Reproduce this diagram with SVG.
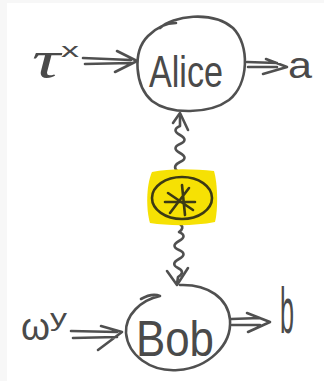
<svg xmlns="http://www.w3.org/2000/svg" width="324" height="381" viewBox="0 0 324 381">
<style>
.ink{fill:none;stroke:#505050;stroke-width:2.6;stroke-linecap:round;stroke-linejoin:round}
.dark{fill:none;stroke:#3c3a14;stroke-width:2.6;stroke-linecap:round;stroke-linejoin:round}
.t{fill:#4a4a4a;font-family:"Liberation Sans",Arial,sans-serif}
</style>
<rect width="324" height="381" fill="#f7f7f7"/>
<rect x="7" y="3" width="317" height="378" fill="#ffffff"/>
<g id="connectors">
  <g id="tau-to-alice">
    <path class="ink" d="M83 58 L131 60 M85 64 L131 63 M117 51 L137 61 L115 72"/>
  </g>
  <g id="alice-to-a">
    <path class="ink" d="M247 62 L277 63 M248 67 L277 67 M266 59 L287 67 L263 74"/>
  </g>
  <g id="omega-to-bob">
    <path class="ink" d="M71 331 L117 332 M73 338 L117 337 M101 326 L122 332 L98 350"/>
  </g>
  <g id="bob-to-b">
    <path class="ink" d="M231 319 L260 318 M232 325 L260 325 M247 313 L270 322 L248 332"/>
  </g>
  <g id="source-to-alice">
    <path class="ink" d="M180 115 L180 126 q-9 4 0 9 t0 9 t0 9 t0 9 q-8 4 -3 9 q3 2 -1 5"/>
    <path class="ink" d="M173 123 L180 113 L188 130"/>
  </g>
  <g id="source-to-bob">
    <path class="ink" d="M180 224 q5 4 -1 8 q9 4 0 9 t0 9 t0 9 t-1 9 t0 9 L177 284"/>
    <path class="ink" d="M167 271 L177 285 L188 268"/>
  </g>
</g>
<g id="node-alice">
  <path class="ink" d="M160 28 C172 16 212 10 233 28 C250 45 249 84 229 100 C210 114 170 115 152 101 C135 86 132 52 148 36 C156 28 166 23 176 23"/>
  <text class="t" x="149" y="87" font-size="44" textLength="74" lengthAdjust="spacingAndGlyphs">Alice</text>
</g>
<g id="node-bob">
  <path class="ink" d="M141 299 C148 295 155 294 160 296 C141 300 125 315 126 333 C128 355 150 372 178 370 C208 368 232 345 230 320 C228 298 208 284 180 285"/>
  <text class="t" x="136" y="356" font-size="50" textLength="78" lengthAdjust="spacingAndGlyphs">Bob</text>
</g>
<g id="node-source">
  <path d="M152 172 C170 168 195 169 214 171 C218 185 218 210 215 222 C195 226 170 226 150 223 C146 210 146 185 152 172 Z" fill="#f6e104"/>
  <ellipse class="dark" cx="182" cy="198" rx="30" ry="21"/>
  <path class="dark" d="M165 202 L195 202 M182 185 L185 215 M170 213 L189 188 M168 193 L193 210"/>
</g>
<g id="label-tau">
  <text x="32" y="77" font-size="52" font-style="italic" fill="#4a4a4a" font-family="'Liberation Serif','Times New Roman',serif" textLength="28" lengthAdjust="spacingAndGlyphs">τ</text>
  <text class="t" x="61" y="57" font-size="20" textLength="18" lengthAdjust="spacingAndGlyphs">x</text>
</g>
<g id="label-a">
  <text class="t" x="288" y="78" font-size="36" textLength="24" lengthAdjust="spacingAndGlyphs">a</text>
</g>
<g id="label-omega">
  <text class="t" x="21" y="340" font-size="38" textLength="29" lengthAdjust="spacingAndGlyphs">ω</text>
  <text class="t" x="50" y="326" font-size="24" textLength="17" lengthAdjust="spacingAndGlyphs">y</text>
</g>
<g id="label-b">
  <text class="t" x="280" y="333" font-size="64" textLength="14" lengthAdjust="spacingAndGlyphs">b</text>
</g>
</svg>
